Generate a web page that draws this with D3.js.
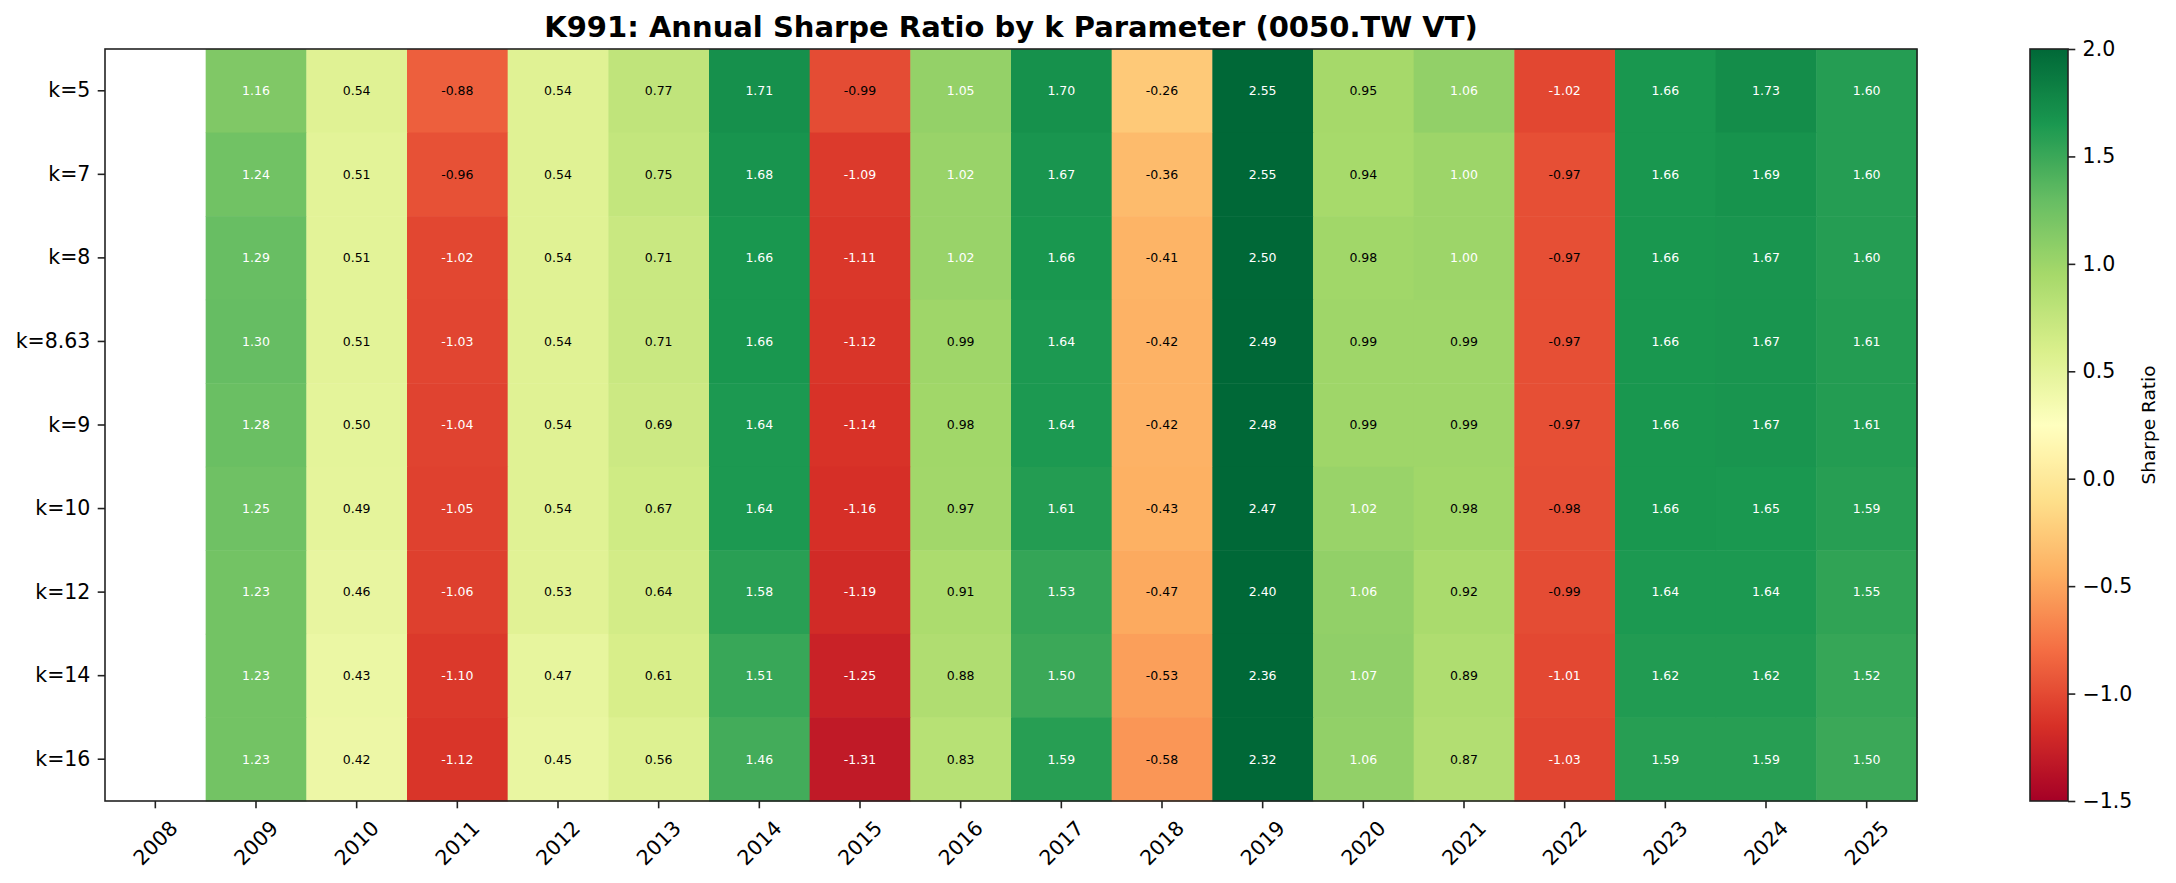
<!DOCTYPE html>
<html>
<head>
<meta charset="utf-8">
<script src="https://cdn.jsdelivr.net/npm/d3@7"></script>
<style>
  html, body { margin: 0; padding: 0; background: #fff; }
  svg { display: block; font-family: "DejaVu Sans", sans-serif; }
</style>
</head>
<body>
<div id="chart-container"></div>
<script>
const years = ["2008", "2009", "2010", "2011", "2012", "2013", "2014", "2015", "2016",
               "2017", "2018", "2019", "2020", "2021", "2022", "2023", "2024", "2025"];
const kLabels = ["k=5", "k=7", "k=8", "k=8.63", "k=9", "k=10", "k=12", "k=14", "k=16"];

// one array per k row, 2008 has no data
const k5   = [null, 1.16, 0.54, -0.88, 0.54, 0.77, 1.71, -0.99, 1.05, 1.70, -0.26, 2.55, 0.95, 1.06, -1.02, 1.66, 1.73, 1.60];
const k7   = [null, 1.24, 0.51, -0.96, 0.54, 0.75, 1.68, -1.09, 1.02, 1.67, -0.36, 2.55, 0.94, 1.00, -0.97, 1.66, 1.69, 1.60];
const k8   = [null, 1.29, 0.51, -1.02, 0.54, 0.71, 1.66, -1.11, 1.02, 1.66, -0.41, 2.50, 0.98, 1.00, -0.97, 1.66, 1.67, 1.60];
const k863 = [null, 1.30, 0.51, -1.03, 0.54, 0.71, 1.66, -1.12, 0.99, 1.64, -0.42, 2.49, 0.99, 0.99, -0.97, 1.66, 1.67, 1.61];
const k9   = [null, 1.28, 0.50, -1.04, 0.54, 0.69, 1.64, -1.14, 0.98, 1.64, -0.42, 2.48, 0.99, 0.99, -0.97, 1.66, 1.67, 1.61];
const k10  = [null, 1.25, 0.49, -1.05, 0.54, 0.67, 1.64, -1.16, 0.97, 1.61, -0.43, 2.47, 1.02, 0.98, -0.98, 1.66, 1.65, 1.59];
const k12  = [null, 1.23, 0.46, -1.06, 0.53, 0.64, 1.58, -1.19, 0.91, 1.53, -0.47, 2.40, 1.06, 0.92, -0.99, 1.64, 1.64, 1.55];
const k14  = [null, 1.23, 0.43, -1.10, 0.47, 0.61, 1.51, -1.25, 0.88, 1.50, -0.53, 2.36, 1.07, 0.89, -1.01, 1.62, 1.62, 1.52];
const k16  = [null, 1.23, 0.42, -1.12, 0.45, 0.56, 1.46, -1.31, 0.83, 1.59, -0.58, 2.32, 1.06, 0.87, -1.03, 1.59, 1.59, 1.50];
const rows = [k5, k7, k8, k863, k9, k10, k12, k14, k16];

const colorTicks = [-1.5, -1.0, -0.5, 0.0, 0.5, 1.0, 1.5, 2.0];
const vmin = -1.5, vmax = 2.0;

// matplotlib RdYlGn (linear segments between the ColorBrewer stops)
const rdylgn = ["#a50026", "#d73027", "#f46d43", "#fdae61", "#fee08b", "#ffffbf",
                "#d9ef8b", "#a6d96a", "#66bd63", "#1a9850", "#006837"];

const width = 2176;
const height = 883;
const marginTop = 49;
const marginLeft = 105;
const plotRight = 1917;
const plotBottom = 801;
const font = "DejaVu Sans, sans-serif";

const cells = [];
rows.forEach((r, i) => r.forEach((v, j) => {
  if (v !== null) cells.push({k: kLabels[i], year: years[j], value: v});
}));

const x = d3.scaleBand().domain(years).range([marginLeft, plotRight]);
const y = d3.scaleBand().domain(kLabels).range([marginTop, plotBottom]);

const color = d3.scaleLinear()
    .domain(rdylgn.map((c, i) => vmin + (vmax - vmin) * i / (rdylgn.length - 1)))
    .range(rdylgn)
    .interpolate(d3.interpolateRgb)
    .clamp(true);

const svg = d3.select("#chart-container").append("svg")
    .attr("width", width)
    .attr("height", height)
    .attr("viewBox", [0, 0, width, height]);

svg.append("text")
    .attr("x", (marginLeft + plotRight) / 2)
    .attr("y", 37)
    .attr("text-anchor", "middle")
    .attr("font-family", font)
    .attr("font-size", 29)
    .attr("font-weight", "bold")
    .text("K991: Annual Sharpe Ratio by k Parameter (0050.TW VT)");

// heatmap cells
svg.append("g")
  .selectAll("rect")
  .data(cells)
  .join("rect")
    .attr("x", d => x(d.year))
    .attr("y", d => y(d.k))
    .attr("width", x.bandwidth() + 0.5)
    .attr("height", y.bandwidth() + 0.5)
    .attr("fill", d => color(d.value));

// value labels
svg.append("g")
    .attr("font-family", font)
  .selectAll("text")
  .data(cells)
  .join("text")
    .attr("x", d => x(d.year) + x.bandwidth() / 2)
    .attr("y", d => y(d.k) + y.bandwidth() / 2)
    .attr("dy", "0.35em")
    .attr("text-anchor", "middle")
    .attr("font-size", 12.5)
    .attr("fill", d => Math.abs(d.value) >= 1 ? "white" : "black")
    .text(d => d.value.toFixed(2));

// axes
const xAxis = svg.append("g")
    .attr("transform", `translate(0,${plotBottom})`)
    .call(d3.axisBottom(x).tickSize(7.3).tickPadding(7.3))
    .attr("font-family", font);
xAxis.select(".domain").remove();
xAxis.selectAll(".tick line").attr("stroke", "#222").attr("stroke-width", 1.6);
xAxis.selectAll(".tick text")
    .attr("font-size", 20.5)
    .attr("fill", "#000")
    .attr("text-anchor", "middle")
    .attr("y", 0)
    .attr("dy", "0.35em")
    .attr("transform", "translate(0,42) rotate(-45)");

const yAxis = svg.append("g")
    .attr("transform", `translate(${marginLeft},0)`)
    .call(d3.axisLeft(y).tickSize(7.3).tickPadding(7.3))
    .attr("font-family", font);
yAxis.select(".domain").remove();
yAxis.selectAll(".tick line").attr("stroke", "#222").attr("stroke-width", 1.6);
yAxis.selectAll(".tick text").attr("font-size", 20.5).attr("fill", "#000");

svg.append("rect")
    .attr("x", marginLeft)
    .attr("y", marginTop)
    .attr("width", plotRight - marginLeft)
    .attr("height", plotBottom - marginTop)
    .attr("fill", "none")
    .attr("stroke", "#222")
    .attr("stroke-width", 1.6);

// colorbar
const cbLeft = 2030, cbWidth = 38;
const cbScale = d3.scaleLinear().domain([vmin, vmax]).range([plotBottom, marginTop]);

const grad = svg.append("defs").append("linearGradient")
    .attr("id", "cbgrad")
    .attr("x1", 0).attr("y1", 1).attr("x2", 0).attr("y2", 0);
grad.selectAll("stop")
  .data(d3.range(0, 1.0001, 0.01))
  .join("stop")
    .attr("offset", d => d)
    .attr("stop-color", d => color(vmin + d * (vmax - vmin)));

svg.append("rect")
    .attr("x", cbLeft)
    .attr("y", marginTop)
    .attr("width", cbWidth)
    .attr("height", plotBottom - marginTop)
    .attr("fill", "url(#cbgrad)")
    .attr("stroke", "#222")
    .attr("stroke-width", 1.6);

const cbAxis = svg.append("g")
    .attr("transform", `translate(${cbLeft + cbWidth},0)`)
    .call(d3.axisRight(cbScale).tickValues(colorTicks).tickFormat(d3.format(".1f"))
      .tickSize(7.3).tickPadding(7.3))
    .attr("font-family", font);
cbAxis.select(".domain").remove();
cbAxis.selectAll(".tick line").attr("stroke", "#222").attr("stroke-width", 1.6);
cbAxis.selectAll(".tick text").attr("font-size", 20.5).attr("fill", "#000");

svg.append("text")
    .attr("transform", `translate(2149,${(marginTop + plotBottom) / 2}) rotate(-90)`)
    .attr("text-anchor", "middle")
    .attr("dy", "0.35em")
    .attr("font-family", font)
    .attr("font-size", 18.5)
    .text("Sharpe Ratio");
</script>
</body>
</html>
